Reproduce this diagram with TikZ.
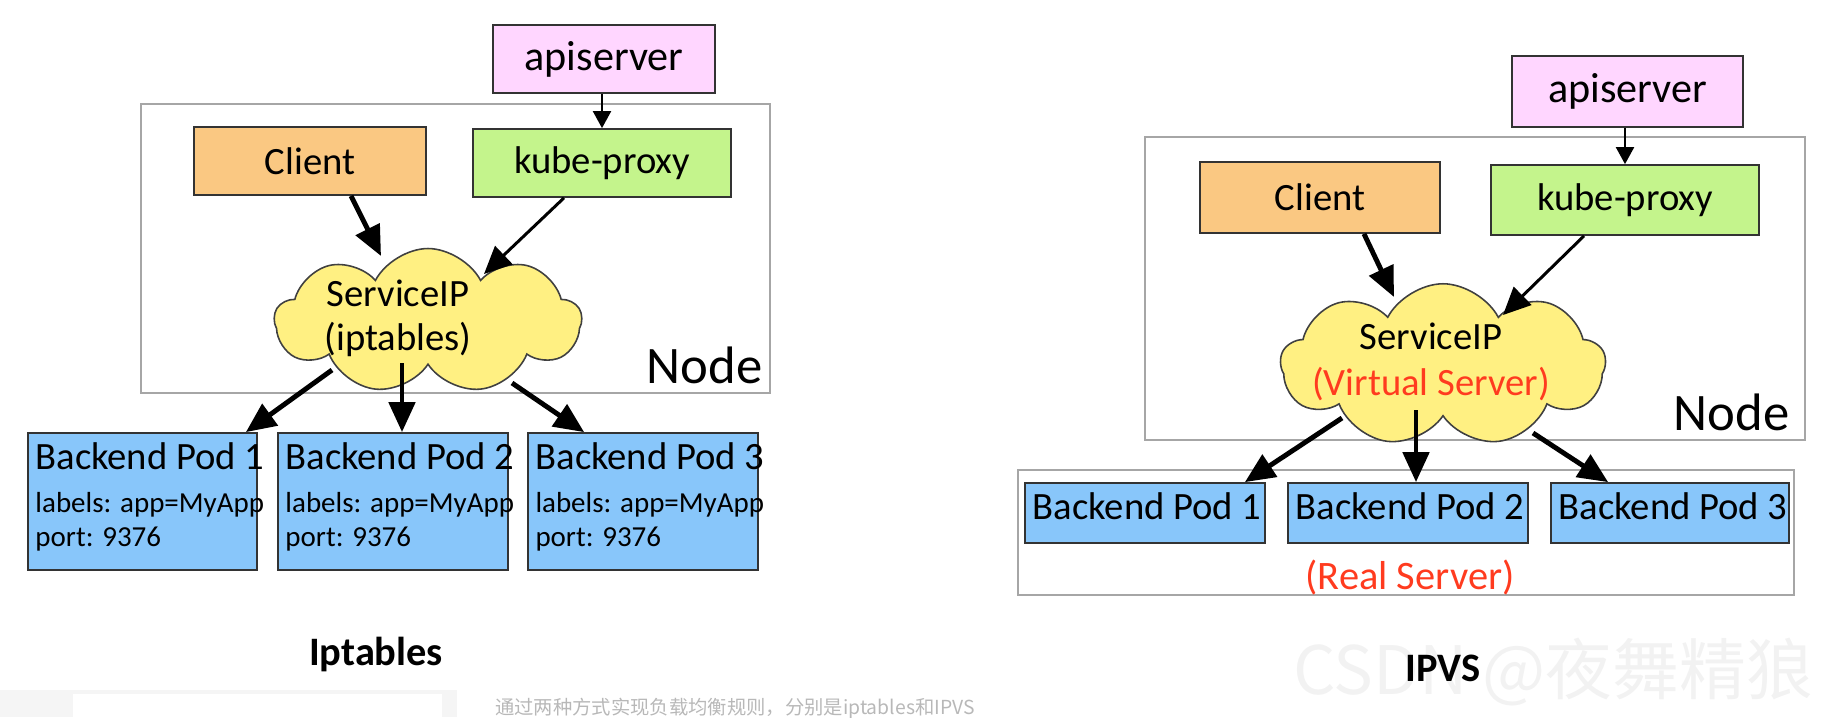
\documentclass[tikz,border=0pt]{standalone}
\usepackage{fontspec}
\setmainfont{Carlito}
\newfontfamily\cjk{Noto Sans CJK SC}
\usetikzlibrary{shapes.symbols, arrows.meta}

\definecolor{apipink}{HTML}{FFD6FF}
\definecolor{clientorange}{HTML}{FAC882}
\definecolor{proxygreen}{HTML}{C4F48C}
\definecolor{cloudyellow}{HTML}{FFF082}
\definecolor{podblue}{HTML}{88C6FA}
\definecolor{serverred}{HTML}{FF3B1F}

\begin{document}
\begin{tikzpicture}[x=0.02cm, y=-0.02cm,
    box/.style={draw=black!80, line width=1pt, minimum height=1.36cm, font=\fontsize{22}{26}\selectfont},
    nodebox/.style={draw=black!35, line width=0.8pt},
    nodetag/.style={anchor=base east, inner sep=0pt, font=\fontsize{30}{34}\selectfont},
    pod/.style={draw=black!80, line width=1pt, fill=podblue},
    podtitle/.style={anchor=base west, inner sep=0pt, font=\fontsize{22}{26}\selectfont},
    podinfo/.style={anchor=base west, inner sep=0pt, font=\fontsize{16.5}{19.3}\selectfont},
    svc/.style={cloud, cloud puffs=9, cloud puff arc=125, cloud ignores aspect, draw=black!75, line width=0.9pt, fill=cloudyellow},
    svctext/.style={align=center, font=\fontsize{22}{25}\selectfont},
    heavy/.style={-{Triangle[length=0.6cm, width=0.52cm]}, line width=2.8pt},
    medium/.style={-{Triangle[length=0.55cm, width=0.5cm]}, line width=1.7pt},
    light/.style={-{Triangle[length=0.34cm, width=0.36cm]}, line width=1.2pt},
    title/.style={font=\bfseries\fontsize{23}{27}\selectfont}]

\useasboundingbox (0,0) rectangle (1822,717);

% Iptables
\node[nodebox, minimum width=12.58cm, minimum height=5.78cm] (nodeL) at (455.5,248.5) {};
\node[nodetag] at ([shift={(-8,-10)}]nodeL.south east) {Node};
\node[box, fill=apipink, minimum width=4.44cm, font=\fontsize{24}{28}\selectfont] (apiL) at (604,59) {apiserver};
\node[box, fill=clientorange, minimum width=4.64cm] (cliL) at (310,161) {Client};
\node[box, fill=proxygreen, minimum width=5.16cm] (kpL) at (602,163) {kube-proxy};
\node[svc, minimum width=6.14cm, minimum height=2.9cm] (svcL) at (428,321) {};
\node[svctext] at ([shift={(-30,-3)}]svcL.center) {ServiceIP\\(iptables)};

\node[pod, minimum width=4.58cm, minimum height=2.74cm] (podL1) at (142.5,501.5) {};
\node[pod, minimum width=4.6cm, minimum height=2.74cm] (podL2) at (393,501.5) {};
\node[pod, minimum width=4.6cm, minimum height=2.74cm] (podL3) at (643,501.5) {};
\node[podtitle] at ([shift={(8,37)}]podL1.north west) {Backend Pod 1};
\node[podtitle] at ([shift={(8,37)}]podL2.north west) {Backend Pod 2};
\node[podtitle] at ([shift={(8,37)}]podL3.north west) {Backend Pod 3};
\node[podinfo] at ([shift={(8,80)}]podL1.north west) {labels: app=MyApp};
\node[podinfo] at ([shift={(8,80)}]podL2.north west) {labels: app=MyApp};
\node[podinfo] at ([shift={(8,80)}]podL3.north west) {labels: app=MyApp};
\node[podinfo] at ([shift={(8,114)}]podL1.north west) {port: 9376};
\node[podinfo] at ([shift={(8,114)}]podL2.north west) {port: 9376};
\node[podinfo] at ([shift={(8,114)}]podL3.north west) {port: 9376};

\draw[light] (apiL.south -| kpL.north) -- (kpL.north);
\draw[heavy] ([shift={(41,0)}]cliL.south) -- ([shift={(-47,-65)}]svcL.center);
\draw[medium] ([shift={(-38,0)}]kpL.south) -- ([shift={(56,-47)}]svcL.center);
\draw[heavy] ([shift={(-96,49)}]svcL.center) -- ([shift={(-12,0)}]podL1.north east);
\draw[heavy] ([shift={(-26,42)}]svcL.center) -- ([shift={(9,0)}]podL2.north);
\draw[heavy] ([shift={(84,62)}]svcL.center) -- ([shift={(57,0)}]podL3.north west);

\node[title] (iptables) at (376,654) {Iptables};

% IPVS
\node[nodebox, minimum width=13.2cm, minimum height=6.06cm] (nodeR) at (1475,288.5) {};
\node[nodetag] at ([shift={(-16,-10)}]nodeR.south east) {Node};
\node[box, fill=apipink, minimum width=4.62cm, minimum height=1.42cm, font=\fontsize{24}{28}\selectfont] (apiR) at (1627.5,91.5) {apiserver};
\node[box, fill=clientorange, minimum width=4.8cm, minimum height=1.42cm] (cliR) at (1320,197.5) {Client};
\node[box, fill=proxygreen, minimum width=5.36cm, minimum height=1.4cm] (kpR) at (1625,200) {kube-proxy};
\node[svc, minimum width=6.5cm, minimum height=3.25cm] (svcR) at (1443,365) {};
\node[svctext, font=\fontsize{22}{26}\selectfont] at ([shift={(-12,-3)}]svcR.center) {ServiceIP\\\textcolor{serverred}{(Virtual Server)}};

\node[nodebox, minimum width=15.52cm, minimum height=2.5cm] (realR) at (1406,532.5) {};
\node[pod, minimum width=4.8cm, minimum height=1.2cm] (podR1) at (1145,513) {};
\node[pod, minimum width=4.8cm, minimum height=1.2cm] (podR2) at (1408,513) {};
\node[pod, minimum width=4.76cm, minimum height=1.2cm] (podR3) at (1670,513) {};
\node[podtitle] at ([shift={(8,37)}]podR1.north west) {Backend Pod 1};
\node[podtitle] at ([shift={(8,37)}]podR2.north west) {Backend Pod 2};
\node[podtitle] at ([shift={(8,37)}]podR3.north west) {Backend Pod 3};
\node[text=serverred, font=\fontsize{23}{27}\selectfont] at ([shift={(4,-18)}]realR.south) {(Real Server)};

\draw[light] (apiR.south -| kpR.north) -- (kpR.north);
\draw[heavy] ([shift={(44,0)}]cliR.south) -- ([shift={(-49,-68)}]svcR.center);
\draw[medium] ([shift={(-41,0)}]kpR.south) -- ([shift={(60,-50)}]svcR.center);
\draw[heavy] ([shift={(-101,53)}]svcR.center) -- ([shift={(-21,0)}]podR1.north east);
\draw[heavy] ([shift={(-27,45)}]svcR.center) -- ([shift={(8,0)}]podR2.north);
\draw[heavy] ([shift={(90,68)}]svcR.center) -- ([shift={(58,0)}]podR3.north west);

% caption strip and watermark
\fill[black!4] (0,690) rectangle (457,717);
\fill[white] (73,694) rectangle (442,717);
\node[text=black!28, font=\cjk\fontsize{11}{13}\selectfont] at (735,709) {通过两种方式实现负载均衡规则，分别是iptables和IPVS};
\node[text=black!5, font=\cjk\fontsize{38}{42}\selectfont] at (1553,672) {CSDN @夜舞精狼};

\node[title] (ipvs) at (1443,668) {IPVS};
\end{tikzpicture}
\end{document}
